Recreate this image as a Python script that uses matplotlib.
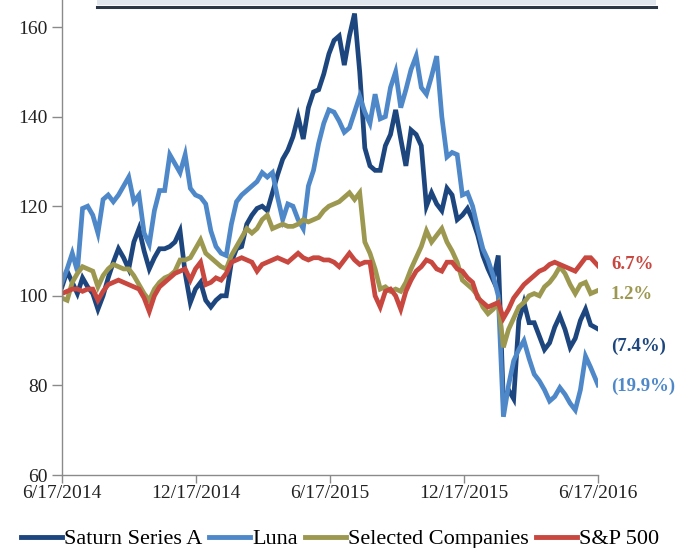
import matplotlib
matplotlib.use("Agg")
import matplotlib.pyplot as plt
from matplotlib.patches import Rectangle
from matplotlib.lines import Line2D
import pandas as pd

# Weekly index levels (start = 100), 6/17/2014 - 6/17/2016
dates = pd.date_range("2014-06-17", periods=104, freq="7D").append(pd.DatetimeIndex(["2016-06-17"]))

saturn = [
    102, 105.5, 103, 100.5, 104, 102, 100.5, 97, 100, 104,
    107.5, 110.5, 108.5, 106, 112, 115, 110, 106, 108.5, 110.5,
    110.5, 111, 112, 114.5, 105, 98.5, 101.5, 103, 99, 97.5,
    99, 100, 100, 107.5, 110.5, 111, 116, 118, 119.5, 120,
    119, 123, 127, 130.5, 132.5, 135.5, 140, 135, 142, 145.5,
    146, 149.5, 154, 157, 158, 151.5, 158, 163, 150, 133,
    129, 128, 128, 133.5, 136, 141.5, 135, 129, 137, 136,
    133.5, 120, 123, 120.5, 119, 124, 122.5, 117, 118, 119.5,
    117, 113.5, 109, 106, 103.5, 109, 76, 79, 77, 94.5,
    98.5, 94, 94, 91, 88, 89.5, 93, 95.5, 92.5, 88.5,
    90.5, 94.5, 97, 93.5, 92.6,
]

luna = [
    103, 106, 109.5, 105.5, 119.5, 120, 118, 114, 121.5, 122.5,
    121, 122.5, 124.5, 126.5, 121, 122.5, 114, 111.5, 119, 123.5,
    123.5, 131.5, 129.5, 127.5, 131.5, 124, 122.5, 122, 120.5, 114.5,
    111, 109.5, 109, 116, 121, 122.5, 123.5, 124.5, 125.5, 127.5,
    126.5, 127.5, 122, 117, 120.5, 120, 117, 115, 124.5, 128,
    134, 138.5, 141.5, 141, 139, 136.5, 137.5, 141, 144.5, 141,
    138.5, 145, 139.5, 140, 146.5, 150, 142, 146, 150.5, 153.5,
    146.5, 145, 149, 153.5, 140, 131, 132, 131.5, 122.5, 123,
    120, 115, 110.5, 108, 104.5, 100, 73, 80, 85.5, 88,
    90, 86, 82.5, 81, 79, 76.5, 77.5, 79.5, 78, 76,
    74.5, 79, 86.5, 84, 80.1,
]

selected = [
    99.5, 99, 103, 105, 106.5, 106, 105.5, 102, 104.5, 106,
    107, 106.5, 106, 106, 104.5, 102.5, 100.5, 99, 101.5, 103,
    104, 104.5, 105.5, 108, 108, 108.5, 110.5, 112.5, 109.5, 108.5,
    107.5, 106.5, 106, 109, 111, 113, 115, 114, 115, 117,
    118, 115, 115.5, 116, 115.5, 115.5, 116, 117, 116.5, 117,
    117.5, 119, 120, 120.5, 121, 122, 123, 121.5, 123, 112,
    109.5, 106, 101.5, 102, 101, 101.5, 101, 103, 106, 108.5,
    111, 114.5, 112, 113.5, 115, 112, 110, 107.5, 103.5, 102.5,
    101.5, 100, 97.5, 96, 97, 98.5, 88.5, 92.5, 95, 97.5,
    98.5, 100, 100.5, 100, 102, 103, 104.5, 106.5, 105, 102.5,
    100.5, 102.5, 103, 100.5, 101.2,
]

sp500 = [
    100.5, 101, 101.5, 101.5, 101, 101.5, 101.5, 99, 101, 102.5,
    103, 103.5, 103, 102.5, 102, 101.5, 99.5, 96.5, 100, 102,
    103, 104, 105, 105.5, 106, 103.5, 106, 107.5, 102.5, 103,
    104, 103.5, 105, 107.5, 108, 108.5, 108, 107.5, 105.5, 107,
    107.5, 108, 108.5, 108, 107.5, 108.5, 109.5, 108.5, 108, 108.5,
    108.5, 108, 108, 107.5, 106.5, 108, 109.5, 108, 107, 107.5,
    107.5, 100, 97.5, 101, 101.5, 100, 97, 101, 103.5, 105.5,
    106.5, 108, 107.5, 106, 105.5, 107.5, 107.5, 106, 105.5, 104,
    103, 99.5, 98.5, 97.5, 98, 98.5, 95, 97, 99.5, 101,
    102.5, 103.5, 104.5, 105.5, 106, 107, 107.5, 107, 106.5, 106,
    105.5, 107, 108.5, 108.5, 106.7,
]

series_names = ["Saturn Series A", "Luna", "Selected Companies", "S&P 500"]
series_values = [saturn, luna, selected, sp500]
series_colors = ["#1D467F", "#4E88C9", "#9C9850", "#C8473F"]
end_labels = ["(7.4%)", "(19.9%)", "1.2%", "6.7%"]
label_levels = [88.8, 79.7, 100.2, 106.9]

x_ticks = ["2014-06-17", "2014-12-17", "2015-06-17", "2015-12-17", "2016-06-17"]
x_tick_labels = ["6/17/2014", "12/17/2014", "6/17/2015", "12/17/2015", "6/17/2016"]
y_ticks = [60, 80, 100, 120, 140, 160]

W, H = 676, 548
plt.rcParams["font.family"] = ["Liberation Serif", "DejaVu Serif"]
fig = plt.figure(figsize=(W / 100, H / 100), dpi=100)
fig.patch.set_facecolor("white")

ax = fig.add_axes([62 / W, (H - 475) / H, (598 - 62) / W, 475 / H])
for name, vals, col in zip(series_names, series_values, series_colors):
    ax.plot(dates, vals, color=col, lw=3.4, solid_joinstyle="miter", label=name)

ax.set_xlim(pd.Timestamp("2014-06-17"), pd.Timestamp("2016-06-17"))
ax.set_ylim(60, 60 + 475 / 4.48)
ax.set_xticks(pd.to_datetime(x_ticks))
ax.set_xticklabels(x_tick_labels)
ax.set_yticks(y_ticks)

for s in ["top", "right"]:
    ax.spines[s].set_visible(False)
for s in ["left", "bottom"]:
    ax.spines[s].set_color("#8a8a8a")
    ax.spines[s].set_linewidth(1.0)
ax.tick_params(axis="y", direction="out", length=7, width=1.0, color="#8a8a8a",
               labelsize=14, pad=3.5, labelcolor="#222222")
ax.tick_params(axis="x", direction="out", length=5.5, width=1.0, color="#8a8a8a",
               labelsize=14, pad=2, labelcolor="#222222")

# end-of-period returns next to each line
for lab, lev, col in zip(end_labels, label_levels, series_colors):
    ax.annotate(lab, xy=(pd.Timestamp("2016-06-17"), lev), xytext=(13, 0),
                textcoords="offset pixels", va="center", ha="left",
                fontsize=13.5, fontweight="bold", color=col, annotation_clip=False)

# header strip above the plot
fig.add_artist(Rectangle((97 / W, (H - 5) / H), (656 - 97) / W, 5 / H,
                         transform=fig.transFigure, facecolor="#dfe6ee", edgecolor="none"))
fig.add_artist(Line2D([97 / W, 656 / W], [(H - 6.5) / H] * 2, transform=fig.transFigure,
                      color="#2a3646", lw=2.2))

handles = [Line2D([], [], color=c, lw=3.5) for c in series_colors]
fig.legend(handles, series_names, loc="center", ncol=4, frameon=False,
           bbox_to_anchor=(340 / W, (H - 539) / H), fontsize=16,
           handlelength=1.85, handletextpad=0.1, columnspacing=0.3,
           borderaxespad=0, borderpad=0)

fig.savefig("out.png", dpi=100)
